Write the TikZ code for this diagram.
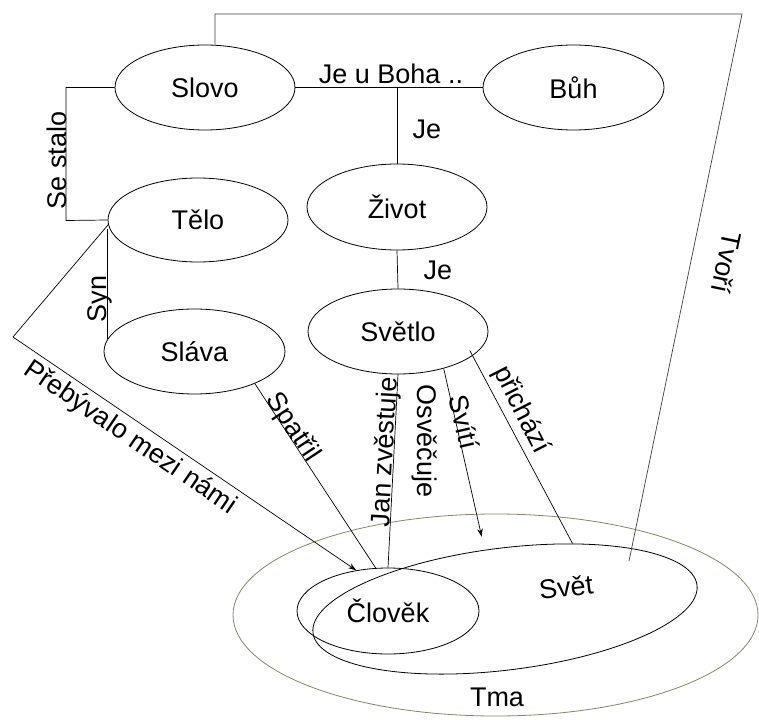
\documentclass[tikz,border=0pt]{standalone}
\usepackage{fontspec}
\setmainfont{Liberation Sans}
\usetikzlibrary{shapes.geometric,arrows.meta,calc}
\definecolor{tmaline}{RGB}{135,132,105}
\begin{document}
\begin{tikzpicture}[x=1pt,y=-1pt,
  every node/.style={font=\fontsize{27}{32}\selectfont, text=black},
  concept/.style={ellipse, draw, line width=0.8pt, inner sep=0pt,
                  minimum width=180pt, minimum height=85pt},
  link/.style={line width=0.7pt},
  arr/.style={link, -{Stealth[length=8pt,width=5.5pt]}},
  lbl/.style={inner sep=0pt}
]
\useasboundingbox (0,0) rectangle (759,719);

% outer region and the world
\node[ellipse, draw=tmaline, line width=0.8pt, inner sep=0pt,
      minimum width=525pt, minimum height=202pt] (tma) at (495.5,615) {};
\node[lbl] (tmatext) at (497,697) {Tma};
\node[ellipse, draw, line width=0.8pt, inner sep=0pt, rotate=7.1,
      minimum width=387pt, minimum height=122pt] (svet) at (505,609) {};
\node[lbl, rotate=7] (svettext) at (566,587) {Svět};
\node[concept, minimum width=182pt, minimum height=86pt] (clovek) at (388,611) {Člověk};

% concepts
\node[concept] (slovo)  at (205,87.5)  {Slovo};
\node[concept, minimum width=181pt] (buh) at (573.5,87.5) {Bůh};
\node[concept, minimum height=84pt] (telo) at (198,220) {Tělo};
\node[concept, minimum height=86pt] (zivot) at (397,207) {Život};
\node[concept, minimum width=181pt] (slava) at (194.5,351.5) {Sláva};
\node[concept] (svetlo) at (398,331.5) {Světlo};

% helper points
\coordinate (tl) at (215,14);
\coordinate (tr) at (742,14);
\coordinate (tvoriEnd) at (629,561);
\coordinate (ssb) at (66,220.5);
\coordinate (pb) at (13,337);
\coordinate (svitiEnd) at (481.7,536.7);

% connectors
\draw[link] (slovo.east) -- (buh.west);
\draw[link] (zivot.north |- slovo.east) -- (zivot.north);
\draw[link] (zivot.south) -- (svetlo.north);
\draw[link] (slovo.west) -| (ssb) -- (telo.west);
\draw[link] (telo.186 -| slava.172) -- (slava.172);
\draw[link, draw=black!75] (slovo.north -| tl) -- (tl) -- (tr) -- (tvoriEnd);
\draw[link] (telo.183) -- (pb);
\draw[arr] (pb) -- (clovek.128);
\draw[link] (slava.-28) -- (clovek.106);
\draw[link] (svetlo.south) -- (clovek.north);
\draw[arr] (svetlo.-39) -- (svitiEnd);
\draw[link, shorten <=-6pt] (svetlo.-18) -- (svet.37);

% labels
\node[lbl] at (391,74) {Je u Boha ..};
\node[lbl] at (427,129) {Je};
\node[lbl] at (438,270) {Je};
\node[lbl, rotate=90] at (57,160.5) {Se stalo};
\node[lbl, rotate=90] at (100,299) {Syn};
\node[lbl, rotate=-101.7] at (727,263) {Tvoří};
\node[lbl, rotate=-34.3] at (130,438) {Přebývalo mezi námi};
\node[lbl, rotate=-56.5] at (292.5,427.5) {Spatřil};
\node[lbl, rotate=87] at (386,452) {Jan zvěstuje};
\node[lbl, rotate=-90] at (425,441) {Osvěčuje};
\node[lbl, rotate=-77] at (464.5,422) {Svítí};
\node[lbl, rotate=-63] at (521,410) {přichází};
\end{tikzpicture}
\end{document}
